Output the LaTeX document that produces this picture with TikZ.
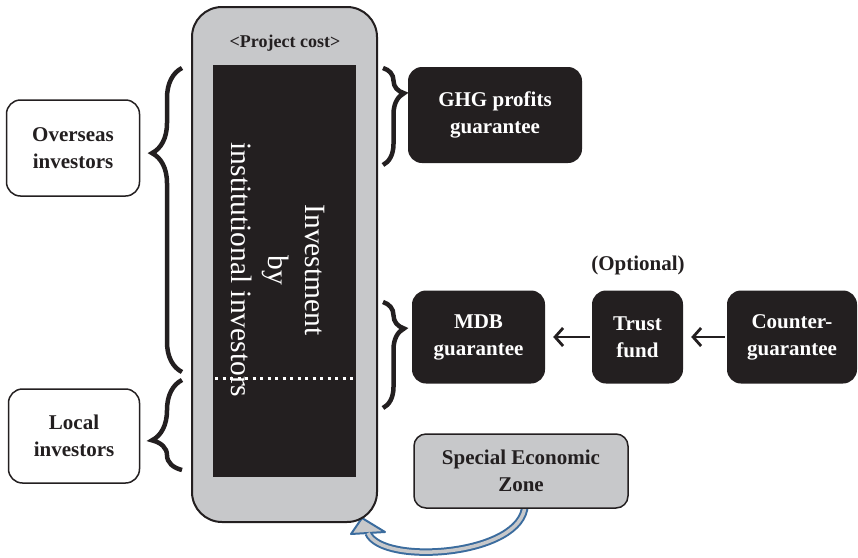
\documentclass[tikz,border=0pt]{standalone}
\usepackage{fontspec}
\setmainfont{Liberation Serif}
\usetikzlibrary{decorations.pathreplacing,arrows.meta}
\definecolor{boxblack}{HTML}{231F20}
\definecolor{boxgrey}{HTML}{C7C8CA}
\definecolor{arrowblue}{HTML}{3B6C9E}
\tikzset{
    every node/.style={align=center, inner sep=0pt,
    	font=\fontsize{21}{27}\selectfont\bfseries}
}
\tikzset{
    darkbox/.style={rectangle, rounded corners=14pt, fill=boxblack, text=white},
    whitebox/.style={rectangle, rounded corners=14pt, draw=boxblack,
    	line width=1.5pt, fill=white, text=boxblack},
    greybox/.style={rectangle, rounded corners=12pt, draw=boxblack,
    	line width=1.5pt, fill=boxgrey, text=boxblack}
}
\tikzset{
	curly/.style={decorate, line width=4.5pt, draw=boxblack},
	flow/.style={-{Straight Barb[length=8pt,width=18pt]}, line width=2.8pt,
		draw=boxblack, shorten >=8pt, shorten <=2pt}
}

\begin{document}
\begin{tikzpicture}[x=1pt,y=-1pt]
	\useasboundingbox (0,0) rectangle (858,557);
	% curved arrow from the zone back to the project
	\coordinate (bendstart) at (525,505);
	\coordinate (bendend) at (368,533);
	\draw[arrowblue, line width=7.5pt] (bendstart) .. controls (523,556) and (382,566) .. (bendend);
	\filldraw[fill=boxgrey, draw=arrowblue, line width=2pt, line join=round]
		(351,534) -- (362,518) -- (385,532) -- cycle;
	\draw[boxgrey, line width=3.5pt] (bendstart) .. controls (523,556) and (382,566) .. (bendend);

	\node (cost) [greybox, rounded corners=30pt, line width=2pt, minimum width=185pt,
		minimum height=515pt] at (284.5,264.5) {};
	\node (title) [text=boxblack, font=\fontsize{18}{22}\selectfont\bfseries] at (285,43) {<Project cost>};
	\node (invest) [fill=boxblack, minimum width=143pt, minimum height=412pt] at (284.5,271) {};
	\node (invtext) [rotate=-90, text=white, font=\fontsize{29.5}{37}\selectfont] at (278,270)
		{Investment\\by\\institutional investors};
	\draw[white, line width=3pt, dash pattern=on 3pt off 4.5pt] (215,378) -- (356,378);

	\node (overseas) [whitebox, minimum width=133pt, minimum height=96pt] at (73,148) {Overseas\\investors};
	\node (local) [whitebox, minimum width=131pt, minimum height=94pt] at (74,436) {Local\\investors};
	\node (ghg) [darkbox, minimum width=174pt, minimum height=96pt] at (495,115) {GHG profits\\guarantee};
	\node (mdb) [darkbox, minimum width=133pt, minimum height=93pt] at (478.5,337) {MDB\\guarantee};
	\node (trust) [darkbox, minimum width=91pt, minimum height=93pt] at (637.5,337) {Trust\\fund};
	\node (counter) [darkbox, minimum width=130pt, minimum height=93pt] at (792,337) {Counter-\\guarantee};
	\node (optional) [text=boxblack] at (638,265) {(Optional)};
	\node (sez) [greybox, minimum width=214pt, minimum height=74pt] at (521,471) {Special Economic\\Zone};

	\draw[flow] (trust) -- (mdb);
	\draw[flow] (counter) -- (trust);

	\draw[curly, decoration={brace, amplitude=30pt, aspect=0.72}] (182,372) -- (182,68);
	\draw[curly, decoration={brace, amplitude=30pt, aspect=0.33}] (182,470) -- (182,380);
	\draw[curly, decoration={brace, amplitude=21pt, aspect=0.26}] (383,68) -- (383,165);
	\draw[curly, decoration={brace, amplitude=21pt, aspect=0.25}] (383,302) -- (383,408);
\end{tikzpicture}
\end{document}
